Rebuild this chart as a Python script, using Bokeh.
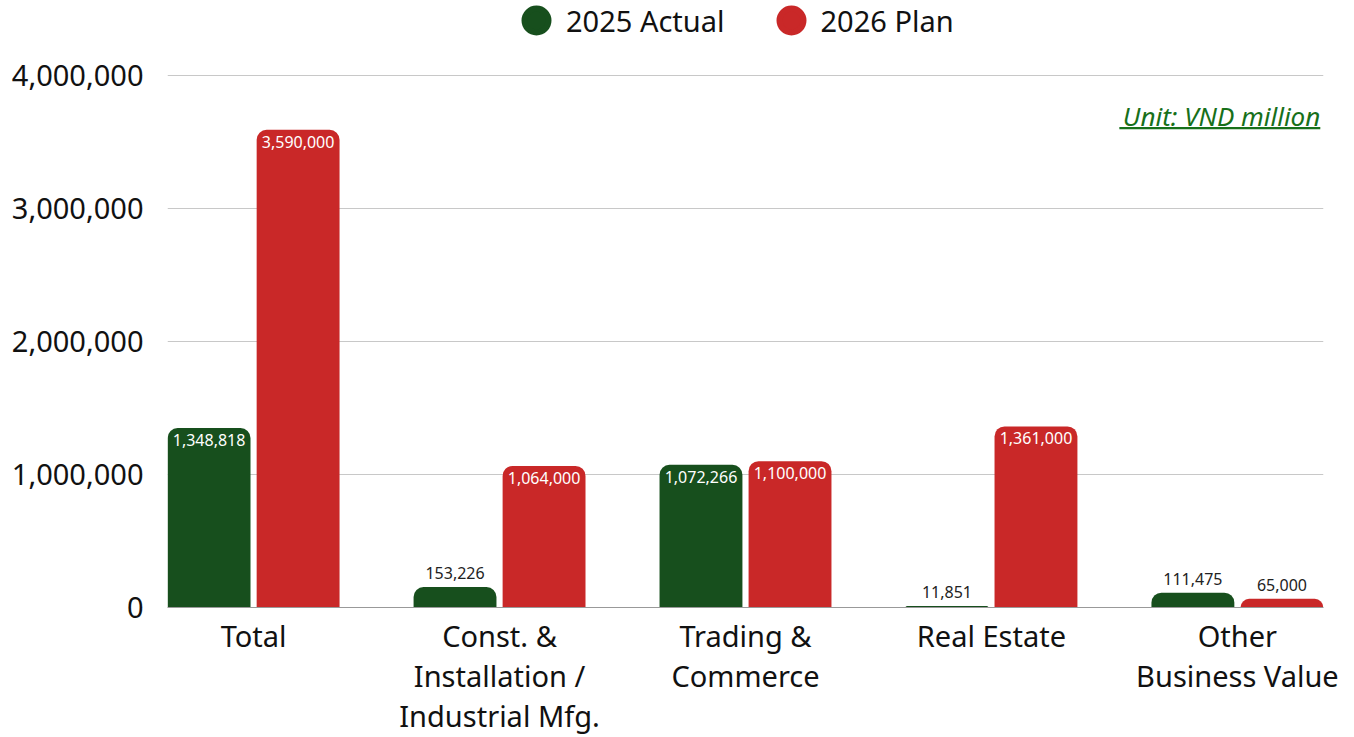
from bokeh.plotting import figure
from bokeh.models import (ColumnDataSource, FixedTicker, NumeralTickFormatter, Range1d,
                          Legend, LegendItem, Label, BoxAnnotation)
from bokeh.core.properties import value
from bokeh.embed import file_html
from bokeh.resources import INLINE

# ---------------- data ----------------
categories = ["Total", "Const. &\nInstallation /\nIndustrial Mfg.", "Trading &\nCommerce",
              "Real Estate", "Other\nBusiness Value"]
actual_2025 = [1348818, 153226, 1072266, 11851, 111475]
plan_2026 = [3590000, 1064000, 1100000, 1361000, 65000]
y_ticks = [0, 1000000, 2000000, 3000000, 4000000]
series_names = ["2025 Actual", "2026 Plan"]
unit_text = "Unit: VND million"

# ---------------- style ----------------
GREEN = "#174f1d"
RED = "#c92828"
UNIT_GREEN = "#17701a"
FONT = "Noto Sans"
TEXT = "#111111"
OFFSET = 0.181
BAR_W = 0.337
INSIDE_MIN = 500000
W, H = 1354, 737
BOTTOM_PANEL = 128

idx = list(range(len(categories)))


def make_source(vals, off):
    xs = [i + off for i in idx]
    labels = [f"{v:,}" for v in vals]
    colors = ["#ffffff" if v >= INSIDE_MIN else "#222222" for v in vals]
    yoff = [12 if v >= INSIDE_MIN else -14 for v in vals]
    return ColumnDataSource(dict(x=xs, top=vals, label=labels, color=colors, yoff=yoff))


src_a = make_source(actual_2025, -OFFSET)
src_p = make_source(plan_2026, OFFSET)

p = figure(width=W, height=H, x_range=Range1d(-0.35, 4.35), y_range=Range1d(0, 4.5618e6),
           output_backend="svg", toolbar_location=None,
           min_border_left=167, min_border_right=31, min_border_top=0,
           min_border_bottom=BOTTOM_PANEL)
p.outline_line_color = None
p.background_fill_color = "white"
p.border_fill_color = "white"
# off-screen range used only by the legend's circle proxies
p.extra_x_ranges = {"legend_proxy": Range1d(1000, 1001)}

proxies = []
for src, col in ((src_a, GREEN), (src_p, RED)):
    p.vbar(x="x", top="top", width=BAR_W, source=src, fill_color=col, line_color=None,
           border_radius=(10, 10, 0, 0))
    p.text(x="x", y="top", text="label", source=src, text_font=value(FONT),
           text_font_size="16px", text_align="center", text_baseline="middle",
           text_color="color", y_offset="yoff")
    proxies.append(p.scatter(x="x", y="top", source=src, x_range_name="legend_proxy",
                             marker="circle", size=24, fill_color=col, line_color=col,
                             line_width=6))

# axes
p.yaxis.ticker = FixedTicker(ticks=y_ticks)
p.yaxis.formatter = NumeralTickFormatter(format="0,0")
p.yaxis.axis_line_color = None
p.yaxis.major_tick_line_color = None
p.yaxis.minor_tick_line_color = None
p.yaxis.major_tick_out = 0
p.yaxis.major_tick_in = 0
p.yaxis.major_label_standoff = 24
p.yaxis.major_label_text_font = FONT
p.yaxis.major_label_text_font_size = "29px"
p.yaxis.major_label_text_color = TEXT

p.xaxis.ticker = FixedTicker(ticks=idx)
p.xaxis.major_label_overrides = {i: c for i, c in zip(idx, categories)}
p.xaxis.axis_line_color = "#999999"
p.xaxis.axis_line_width = 1
p.xaxis.major_tick_line_color = None
p.xaxis.minor_tick_line_color = None
p.xaxis.major_tick_out = 0
p.xaxis.major_tick_in = 0
p.xaxis.major_label_standoff = 8
p.xaxis.major_label_text_font = FONT
p.xaxis.major_label_text_font_size = "29px"
p.xaxis.major_label_text_color = TEXT
p.xaxis.major_label_text_line_height = 1.03

p.xgrid.grid_line_color = None
p.ygrid.grid_line_color = "#c8c8c8"
p.ygrid.grid_line_width = 1

frame_h = H - BOTTOM_PANEL
legend = Legend(items=[LegendItem(label=series_names[0], renderers=[proxies[0]]),
                       LegendItem(label=series_names[1], renderers=[proxies[1]])],
                orientation="horizontal", location=(339, frame_h - 52),
                glyph_width=60, glyph_height=60, label_standoff=0, spacing=36,
                padding=0, margin=0, border_line_color=None, background_fill_alpha=0,
                label_text_font=FONT, label_text_font_size="29px", label_text_color=TEXT,
                label_text_baseline="middle")
p.add_layout(legend)

# unit note
p.add_layout(Label(x=4.337, y=3.693e6, text=unit_text, text_align="right", text_baseline="middle",
                   text_font=FONT, text_font_style="italic", text_font_size="26px",
                   text_color=UNIT_GREEN))
p.add_layout(BoxAnnotation(left=3.52, right=4.337, bottom=3.594e6, top=3.612e6,
                           fill_color=UNIT_GREEN, fill_alpha=1, line_color=None))

open("out.html", "w").write(file_html(p, INLINE))
